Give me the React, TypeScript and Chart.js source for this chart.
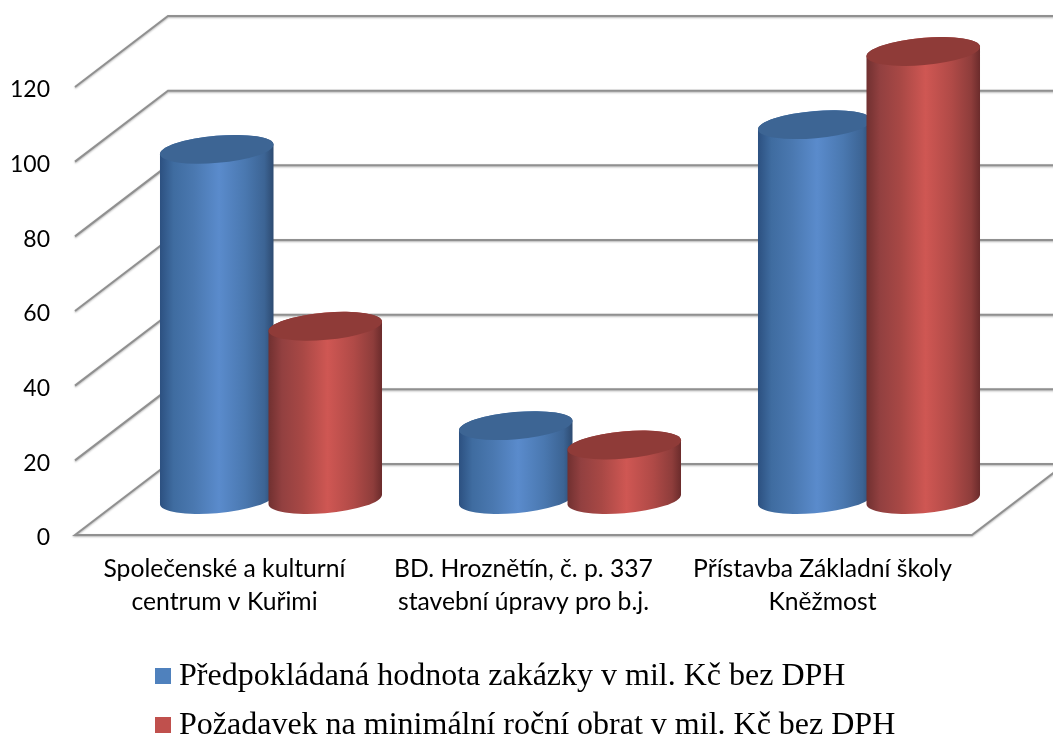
import React, { useEffect, useRef } from "react";
import { Chart, registerables } from "chart.js";

Chart.register(...registerables);

const categories = [
  ["Společenské a kulturní", "centrum v Kuřimi"],
  ["BD. Hroznětín, č. p. 337", "stavební úpravy pro b.j."],
  ["Přístavba Základní školy", "Kněžmost"],
];
const seriesNames = [
  "Předpokládaná hodnota zakázky v mil. Kč bez DPH",
  "Požadavek na minimální roční obrat v mil. Kč bez DPH",
];
const hodnota = [93.8, 19.8, 100.4];
const obrat = [46.4, 14.6, 120];
const yTicks = [0, 20, 40, 60, 80, 100, 120];
const legendColors = ["#4f81bd", "#c0504d"];
const topColors = ["#3d6594", "#8f3b38"];
const bodyStops = [
  [
    [0, "#2c5080"],
    [0.12, "#3f6ca0"],
    [0.3, "#4a78b0"],
    [0.52, "#5a8bcc"],
    [0.75, "#4a78b0"],
    [0.92, "#3c6494"],
    [1, "#2d4a70"],
  ],
  [
    [0, "#703030"],
    [0.12, "#924040"],
    [0.3, "#a84845"],
    [0.52, "#cf5753"],
    [0.75, "#b04a47"],
    [0.92, "#8e3d3b"],
    [1, "#6a2b2b"],
  ],
] as [number, string][][];

const DEPTH_X = 93;
const DEPTH_Y = 71;
const ROT = (-5 * Math.PI) / 180;
const RY = 13.6;

const wallPlugin = {
  id: "wall3d",
  beforeDatasetsDraw(chart: any) {
    const { ctx, chartArea } = chart;
    const y = chart.scales.y;
    ctx.save();
    ctx.strokeStyle = "#909090";
    ctx.lineWidth = 2;
    ctx.shadowColor = "rgba(0,0,0,0.3)";
    ctx.shadowBlur = 2;
    ctx.shadowOffsetY = 1;
    ctx.lineJoin = "miter";
    for (const v of yTicks) {
      const py = y.getPixelForValue(v);
      ctx.beginPath();
      ctx.moveTo(chartArea.left, py);
      ctx.lineTo(chartArea.left + DEPTH_X, py - DEPTH_Y);
      ctx.lineTo(chartArea.right + DEPTH_X, py - DEPTH_Y);
      if (v === 0) {
        ctx.lineTo(chartArea.right, py);
        ctx.closePath();
      }
      ctx.stroke();
    }
    ctx.restore();
  },
  beforeDatasetDraw() {
    return false;
  },
  afterDatasetsDraw(chart: any) {
    const { ctx } = chart;
    chart.data.datasets.forEach((_: any, di: number) => {
      const meta = chart.getDatasetMeta(di);
      meta.data.forEach((bar: any) => {
        const cx = bar.x + DEPTH_X / 2;
        const topY = bar.y - DEPTH_Y / 2;
        const baseY = bar.base - DEPTH_Y / 2;
        const rx = bar.width / 2;
        const t0 = Math.atan((-RY / rx) * Math.tan(ROT));
        const g = ctx.createLinearGradient(cx - rx, 0, cx + rx, 0);
        bodyStops[di].forEach(([o, c]) => g.addColorStop(o, c));
        ctx.save();
        ctx.beginPath();
        ctx.ellipse(cx, baseY, rx, RY, ROT, t0, t0 + Math.PI, false);
        ctx.ellipse(cx, topY, rx, RY, ROT, t0 + Math.PI, t0 + 2 * Math.PI, false);
        ctx.closePath();
        ctx.fillStyle = g;
        ctx.fill();
        ctx.beginPath();
        ctx.ellipse(cx, topY, rx, RY, ROT, 0, 2 * Math.PI);
        ctx.fillStyle = topColors[di];
        ctx.fill();
        ctx.restore();
      });
    });
  },
  afterDraw(chart: any) {
    const { ctx } = chart;
    ctx.save();
    ctx.font = '32px "Liberation Serif"';
    ctx.textBaseline = "middle";
    ctx.textAlign = "left";
    chart.data.datasets.forEach((ds: any, i: number) => {
      const rowY = 676 + i * 49;
      ctx.fillStyle = legendColors[i];
      ctx.fillRect(155, rowY - 8, 16, 16);
      ctx.fillStyle = "#000";
      ctx.fillText(ds.label, 179, rowY + 1);
    });
    ctx.restore();
  },
};

export default function App() {
  const ref = useRef<HTMLCanvasElement>(null);
  useEffect(() => {
    const chart = new Chart(ref.current as HTMLCanvasElement, {
      type: "bar",
      data: {
        labels: categories as any,
        datasets: [
          { label: seriesNames[0], data: hodnota, backgroundColor: legendColors[0], categoryPercentage: 0.7258, barPercentage: 1.05 },
          { label: seriesNames[1], data: obrat, backgroundColor: legendColors[1], categoryPercentage: 0.7258, barPercentage: 1.05 },
        ],
      },
      options: {
        responsive: false,
        animation: false,
        layout: { padding: { top: 87, right: 81, left: 0, bottom: 0 } },
        plugins: { legend: { display: false }, tooltip: { enabled: false } },
        scales: {
          x: {
            grid: { display: false },
            border: { display: false },
            afterFit: (s: any) => { s.height = 203; },
            ticks: {
              autoSkip: false,
              maxRotation: 0,
              color: "#000",
              padding: 10,
              font: { family: "Lato", size: 24.7, lineHeight: 1.33 },
            },
          },
          y: {
            min: 0,
            max: 120,
            grid: { display: false },
            border: { display: false },
            afterFit: (s: any) => { s.width = 75; },
            ticks: {
              stepSize: 20,
              color: "#000",
              padding: 17,
              labelOffset: 3,
              font: { family: "Lato", size: 23 },
            },
          },
        },
      } as any,
      plugins: [wallPlugin],
    });
    return () => chart.destroy();
  }, []);
  return (
    <canvas
      ref={ref}
      width={1053}
      height={738}
      style={{ position: "absolute", left: 0, top: 0, display: "block", width: 1053, height: 738 }}
    />
  );
}
